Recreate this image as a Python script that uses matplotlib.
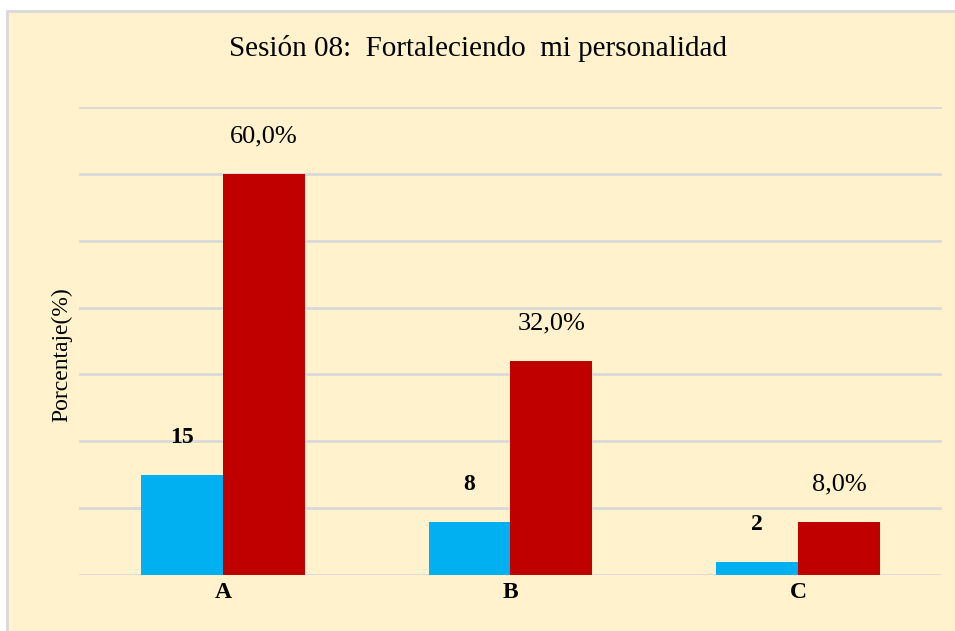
import matplotlib.pyplot as plt
from matplotlib.patches import Rectangle
import numpy as np

categories = ['A', 'B', 'C']
counts = [15, 8, 2]
percents = [60.0, 32.0, 8.0]
pct_labels = ['60,0%', '32,0%', '8,0%']

plt.rcParams['font.family'] = ['Liberation Serif', 'DejaVu Serif']

bg = '#FFF2CC'
fig = plt.figure(figsize=(9.55, 6.31), dpi=100, facecolor='white')

# beige chart area with light border, behind the axes (runs off the right edge)
fig.patches.append(Rectangle((0.007, -0.01), 1.05, 0.992, transform=fig.transFigure,
                             facecolor=bg, edgecolor='#D9D9D9', linewidth=2, zorder=-10))

ax = fig.add_axes([0.0827, 0.0887, 0.9037, 0.7417])
ax.set_facecolor('none')
ax.set_zorder(5)

x = np.arange(len(categories))
w = 0.285
ax.bar(x - w / 2, counts, width=w, color='#00B0F0', zorder=3)
ax.bar(x + w / 2, percents, width=w, color='#C00000', zorder=3)

for xi, c in zip(x, counts):
    ax.annotate(str(c), (xi - w / 2, c), xytext=(0, 27), textcoords='offset points',
                ha='center', va='center', fontsize=17, fontweight='bold')
for xi, p, lab in zip(x, percents, pct_labels):
    ax.annotate(lab, (xi + w / 2, p), xytext=(0, 27), textcoords='offset points',
                ha='center', va='center', fontsize=19)

ax.set_xlim(-0.5, 2.5)
ax.set_ylim(0, 70)
ax.set_yticks(np.arange(0, 71, 10))
ax.set_yticklabels([])
ax.tick_params(axis='y', length=0)
ax.grid(axis='y', color='#D9D9D9', linewidth=2, zorder=0)
ax.set_xticks(x)
ax.set_xticklabels(categories, fontsize=17, fontweight='bold')
ax.tick_params(axis='x', length=0, pad=5)
for s in ax.spines.values():
    s.set_visible(False)

ax.set_ylabel('Porcentaje(%)', fontsize=17)
ax.yaxis.set_label_coords(-0.008, 0.47)

fig.text(0.5, 1 - 49 / 631, 'Sesión 08:  Fortaleciendo  mi personalidad',
         ha='center', va='center', fontsize=21)

fig.savefig('out.png', dpi=100, facecolor='white')
